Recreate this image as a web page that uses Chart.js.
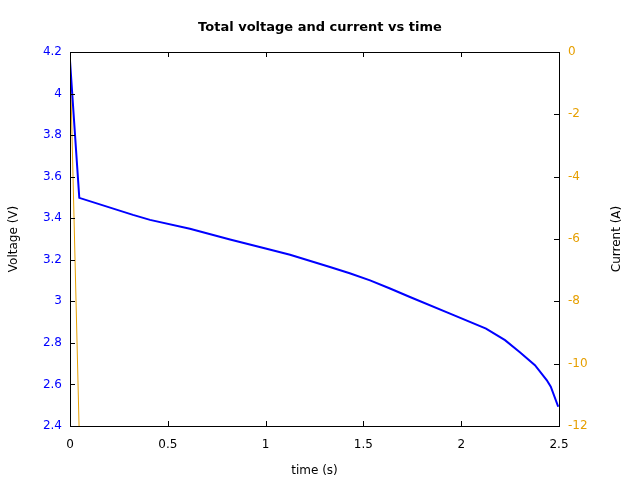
<!DOCTYPE html>
<html>
<head>
<meta charset="utf-8">
<script src="https://cdn.jsdelivr.net/npm/chart.js@4/dist/chart.umd.min.js"></script>
<style>
html,body{margin:0;padding:0;background:#fff;}
#wrap{width:640px;height:480px;}
</style>
</head>
<body>
<div id="wrap"><canvas id="c" width="640" height="480"></canvas></div>
<script>
// Data
const timeV = [0, 0.0475, 0.322, 0.409, 0.613, 0.818, 1.0, 1.125, 1.329, 1.43, 1.534, 1.636, 1.738, 1.943, 2.127, 2.224, 2.30, 2.377, 2.437, 2.458, 2.496];
const voltage = [4.157, 3.498, 3.416, 3.392, 3.349, 3.298, 3.254, 3.224, 3.165, 3.135, 3.101, 3.062, 3.021, 2.941, 2.869, 2.813, 2.755, 2.693, 2.621, 2.589, 2.493];
const timeI = [0, 0.0475, 0.5, 1.0, 1.5, 2.0, 2.496];
const current = [0, -12.3, -12.3, -12.3, -12.3, -12.3, -12.3];
const xTicks = [0, 0.5, 1, 1.5, 2, 2.5];
const vTicks = [2.4, 2.6, 2.8, 3, 3.2, 3.4, 3.6, 3.8, 4, 4.2];
const iTicks = [-12, -10, -8, -6, -4, -2, 0];
const titles = {main: 'Total voltage and current vs time', x: 'time (s)', yV: 'Voltage (V)', yI: 'Current (A)'};

const BLUE = '#0000ff';
const ORANGE = '#e69f00';
const FONT = 'DejaVu Sans';

const frame = {
  id: 'frame',
  afterDatasetsDraw(chart) {
    const {ctx, chartArea: a, scales} = chart;
    ctx.save();
    ctx.strokeStyle = '#000';
    ctx.lineWidth = 1;
    const L = 5;
    ctx.beginPath();
    scales.x.ticks.forEach(t => {
      const px = Math.round(scales.x.getPixelForValue(t.value)) + 0.5;
      ctx.moveTo(px, a.bottom); ctx.lineTo(px, a.bottom - L);
      ctx.moveTo(px, a.top); ctx.lineTo(px, a.top + L);
    });
    scales.yV.ticks.forEach(t => {
      const py = Math.round(scales.yV.getPixelForValue(t.value)) + 0.5;
      ctx.moveTo(a.left, py); ctx.lineTo(a.left + L, py);
    });
    scales.yI.ticks.forEach(t => {
      const py = Math.round(scales.yI.getPixelForValue(t.value)) + 0.5;
      ctx.moveTo(a.right, py); ctx.lineTo(a.right - L, py);
    });
    ctx.stroke();
    ctx.strokeRect(Math.round(a.left) + 0.5, Math.round(a.top) + 0.5, Math.round(a.right - a.left), Math.round(a.bottom - a.top));
    // y axis titles (both read bottom-to-top)
    ctx.fillStyle = '#000';
    ctx.font = '12px "' + FONT + '"';
    ctx.textAlign = 'center';
    ctx.textBaseline = 'middle';
    const cy = (a.top + a.bottom) / 2;
    [[14, titles.yV], [617, titles.yI]].forEach(([x, txt]) => {
      ctx.save();
      ctx.translate(x, cy);
      ctx.rotate(-Math.PI / 2);
      ctx.fillText(txt, 0, 0);
      ctx.restore();
    });
    ctx.restore();
  }
};

new Chart(document.getElementById('c'), {
  type: 'line',
  data: {
    datasets: [
      {
        label: 'Voltage',
        data: timeV.map((t, i) => ({x: t, y: voltage[i]})),
        yAxisID: 'yV',
        borderColor: BLUE,
        borderWidth: 2,
        pointRadius: 0,
        tension: 0,
        fill: false
      },
      {
        label: 'Current',
        data: timeI.map((t, i) => ({x: t, y: current[i]})),
        yAxisID: 'yI',
        borderColor: ORANGE,
        borderWidth: 1,
        pointRadius: 0,
        tension: 0,
        fill: false
      }
    ]
  },
  options: {
    responsive: false,
    animation: false,
    layout: {padding: 0},
    plugins: {
      legend: {display: false},
      tooltip: {enabled: false},
      title: {
        display: true,
        text: titles.main,
        color: '#000',
        font: {family: FONT, size: 13, weight: 'bold'},
        padding: {top: 20, bottom: 16.4}
      }
    },
    scales: {
      x: {
        type: 'linear',
        min: 0, max: 2.5,
        afterBuildTicks: s => { s.ticks = xTicks.map(v => ({value: v})); },
        afterFit: s => { s.height = 54; },
        grid: {display: false, drawTicks: false},
        border: {display: false},
        ticks: {color: '#000', font: {family: FONT, size: 12}, padding: 12, maxRotation: 0,
          callback: v => String(v)},
        title: {display: true, text: titles.x, color: '#000', font: {family: FONT, size: 12}, padding: {top: 0, bottom: 2}}
      },
      yV: {
        type: 'linear',
        position: 'left',
        min: 2.4, max: 4.2,
        afterBuildTicks: s => { s.ticks = vTicks.map(v => ({value: v})); },
        afterFit: s => { s.width = 70; },
        grid: {display: false, drawTicks: false},
        border: {display: false},
        ticks: {color: BLUE, font: {family: FONT, size: 12}, padding: 8,
          callback: v => String(Math.round(v * 10) / 10)},
        title: {display: false}
      },
      yI: {
        type: 'linear',
        position: 'right',
        min: -12, max: 0,
        afterBuildTicks: s => { s.ticks = iTicks.map(v => ({value: v})); },
        afterFit: s => { s.width = 81; },
        grid: {display: false, drawTicks: false},
        border: {display: false},
        ticks: {color: ORANGE, font: {family: FONT, size: 12}, padding: 9,
          callback: v => (v < 0 ? '-' + Math.abs(v) : String(v))},
        title: {display: false}
      }
    }
  },
  plugins: [frame]
});
</script>
</body>
</html>
